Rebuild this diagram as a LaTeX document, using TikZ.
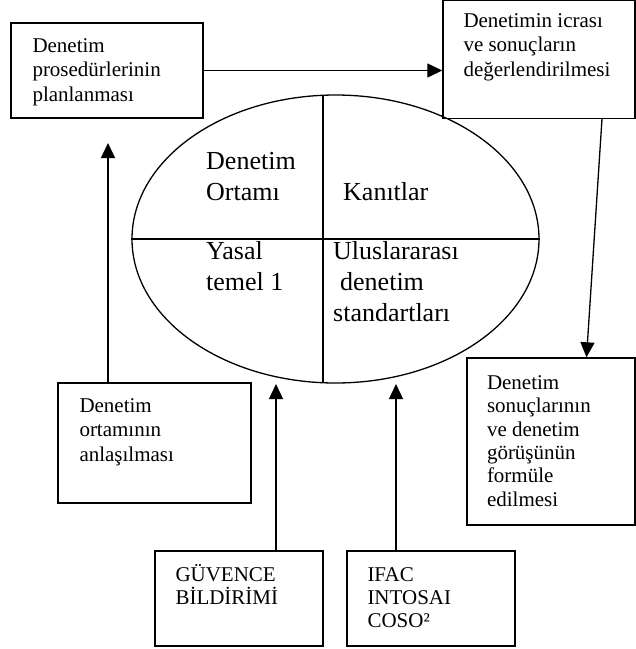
\documentclass[tikz,border=0pt]{standalone}
\usepackage{fontspec}
\setmainfont{Liberation Serif}
\usetikzlibrary{arrows.meta, shapes.geometric}

\begin{document}
\begin{tikzpicture}[x=1pt, y=-1pt,
  box/.style={draw, line width=1.4pt, inner sep=0pt},
  txt/.style={font=\fontsize{21}{24.5}\selectfont, align=left,
    inner sep=0pt, anchor=base west},
  bigtxt/.style={font=\fontsize{26}{31}\selectfont, align=left,
    inner sep=0pt, anchor=base west},
  divider/.style={line width=1.3pt},
  flow/.style={line width=1.3pt, -{Triangle[length=15pt, width=14pt]}}
]
\useasboundingbox (0,0) rectangle (636,649);

%% --- top boxes ---
\node[box, minimum width=192pt, minimum height=95pt] (plan) at (107,70.5) {};
\node[txt] (plantxt) at ([shift={(22pt,-79pt)}]plan.north west)
  {Denetim\\prosedürlerinin\\planlanması};
\node[box, minimum width=192pt, minimum height=117.5pt] (icra) at (539,59.45) {};
\node[txt] (icratxt) at ([shift={(21pt,-76.3pt)}]icra.north west)
  {Denetimin icrası\\ve sonuçların\\değerlendirilmesi};

%% --- central ellipse with four quarters ---
\node[draw, ellipse, line width=1.3pt, inner sep=0pt,
  minimum width=407pt, minimum height=288pt] (core) at (335.5,239) {};
\coordinate (ctop) at (323,95.3);
\coordinate (cbot) at (323,382.7);
\draw[divider] (ctop) -- (cbot);
\draw[divider] (core.west) -- (core.east);
\node[bigtxt] (ortami) at (206,200) {Denetim\\Ortamı};
\node[bigtxt] (kanit) at (343,200) {Kanıtlar};
\node[bigtxt] (yasal) at (206,290) {Yasal\\temel 1};
\node[bigtxt] (standart) at (333,321.5)
  {Uluslararası\\\hspace*{7pt}denetim\\standartları};

%% --- side boxes ---
\node[box, minimum width=193pt, minimum height=120pt] (ortam) at (154.5,443) {};
\node[txt] (ortamtxt) at ([shift={(22pt,-79pt)}]ortam.north west)
  {Denetim\\ortamının\\anlaşılması};
\node[box, minimum width=168pt, minimum height=167pt] (sonuc) at (551,441.5) {};
\node[txt, font=\fontsize{21}{23.4}\selectfont] (sonuctxt)
  at ([shift={(20.5pt,-149pt)}]sonuc.north west)
  {Denetim\\sonuçlarının\\ve denetim\\görüşünün\\formüle\\edilmesi};

%% --- bottom boxes ---
\node[box, minimum width=168pt, minimum height=95pt] (guv) at (239,598.5) {};
\node[txt, font=\fontsize{21}{23}\selectfont] (guvtxt)
  at ([shift={(21pt,-54pt)}]guv.north west) {GÜVENCE\\BİLDİRİMİ};
\node[box, minimum width=168pt, minimum height=95pt] (ifac) at (431,598.5) {};
\node[txt, font=\fontsize{21}{23}\selectfont] (ifactxt)
  at ([shift={(21pt,-77pt)}]ifac.north west) {IFAC\\INTOSAI\\COSO²};

%% --- arrows ---
\coordinate (tipA) at (108,143);
\coordinate (tipB) at (276,384);
\coordinate (tipC) at (396,384);
\draw[flow] (plan.east) -- (plan.east -| icra.west);
\draw[flow] ([xshift=63pt]icra.south) -- ([xshift=35.5pt]sonuc.north);
\draw[flow] ([xshift=-46.5pt]ortam.north) -- (tipA);
\draw[flow] ([xshift=37pt]guv.north) -- (tipB);
\draw[flow] ([xshift=-35pt]ifac.north) -- (tipC);

\end{tikzpicture}
\end{document}
